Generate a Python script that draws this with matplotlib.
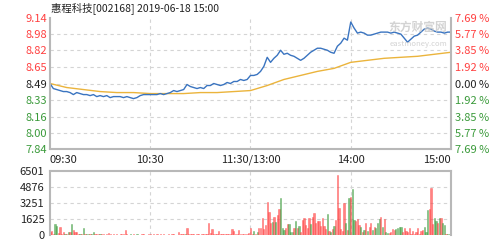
import numpy as np
import matplotlib
matplotlib.use('Agg')
import matplotlib.pyplot as plt

plt.rcParams['font.family'] = ['Noto Sans CJK SC', 'DejaVu Sans']

title = '惠程科技[002168] 2019-06-18 15:00'
prev_close = 8.49

# price ticks (left) and pct labels (right)
price_ticks = [7.84, 8.00, 8.16, 8.33, 8.49, 8.65, 8.82, 8.98, 9.14]
pct_labels = ['7.69 %', '5.77 %', '3.85 %', '1.92 %', '0.00 %', '1.92 %', '3.85 %', '5.77 %', '7.69 %']
vol_ticks = [0, 1625, 3251, 4876, 6501]
time_ticks = [0, 60, 120, 180, 240]
time_labels = ['09:30', '10:30', '11:30/13:00', '14:00', '15:00']

# price every 2 minutes (minute 0..240)
price_min = list(range(0, 241, 2))
price = [8.49, 8.44, 8.43, 8.42, 8.41, 8.41, 8.40, 8.38, 8.40, 8.39,
         8.38, 8.38, 8.37, 8.38, 8.36, 8.37, 8.36, 8.37, 8.35, 8.36,
         8.36, 8.36, 8.35, 8.36, 8.35, 8.34, 8.35, 8.37, 8.38, 8.38,
         8.38, 8.38, 8.38, 8.39, 8.38, 8.39, 8.40, 8.42, 8.41, 8.42,
         8.43, 8.48, 8.46, 8.45, 8.44, 8.45, 8.44, 8.47, 8.47, 8.49,
         8.48, 8.47, 8.48, 8.50, 8.49, 8.51, 8.51, 8.53, 8.52, 8.53,
         8.57, 8.57, 8.58, 8.61, 8.66, 8.75, 8.70, 8.74, 8.77, 8.82,
         8.78, 8.79, 8.77, 8.76, 8.74, 8.72, 8.74, 8.77, 8.80, 8.82,
         8.84, 8.84, 8.83, 8.82, 8.80, 8.79, 8.86, 8.89, 8.94, 8.92,
         9.10, 9.04, 8.99, 9.00, 8.99, 8.97, 8.97, 8.98, 8.99, 9.00,
         9.00, 9.00, 8.99, 9.00, 8.99, 8.98, 8.94, 8.90, 8.93, 8.96,
         8.97, 9.00, 9.03, 9.04, 9.03, 9.01, 9.00, 9.00, 8.99, 9.00,
         9.00]

# average price every 10 minutes
avg_min = list(range(0, 241, 10))
avg_price = [8.49, 8.45, 8.43, 8.41, 8.40, 8.40, 8.39, 8.39, 8.39, 8.40,
             8.40, 8.41, 8.42, 8.47, 8.53, 8.57, 8.61, 8.64, 8.70, 8.72,
             8.74, 8.75, 8.76, 8.78, 8.80]

# volume per minute (0..240) and bar colour (r = up, g = down)
volume = [300, 440, 100, 1080, 900, 200, 780, 150, 330, 100,
          120, 270, 270, 1080, 500, 350, 270, 120, 100, 150,
          680, 100, 150, 150, 130, 150, 270, 100, 80, 60,
          120, 80, 60, 50, 80, 170, 60, 50, 60, 40,
          60, 50, 70, 60, 80, 500, 60, 50, 60, 40,
          80, 50, 60, 40, 50, 70, 60, 50, 40, 60,
          80, 50, 60, 40, 60, 50, 70, 40, 60, 50,
          40, 60, 50, 80, 60, 50, 40, 270, 60, 80,
          150, 100, 750, 150, 100, 60, 80, 50, 60, 70,
          50, 80, 60, 100, 150, 1180, 250, 580, 150, 100,
          60, 410, 80, 80, 60, 100, 60, 80, 150, 580,
          400, 100, 80, 480, 100, 80, 60, 150, 100, 200,
          680, 150, 440, 100, 300, 750, 750, 1760, 580, 1000,
          3390, 2370, 1250, 1350, 1860, 1290, 2030, 2610, 3790, 750,
          510, 680, 1080, 1080, 340, 300, 750, 1420, 680, 950,
          270, 1520, 1690, 1000, 750, 1690, 1080, 1860, 2270, 1200,
          1460, 1460, 900, 1690, 950, 580, 2100, 400, 300, 580,
          950, 1520, 6100, 2710, 600, 400, 3220, 1250, 500, 3790,
          3900, 4650, 1520, 1420, 1620, 1020, 850, 270, 510, 1190,
          400, 850, 1190, 510, 850, 750, 1190, 1620, 1860, 850,
          1590, 340, 170, 170, 340, 580, 500, 610, 750, 850,
          850, 340, 750, 400, 270, 680, 150, 400, 150, 270,
          680, 150, 400, 510, 850, 340, 2540, 2640, 4810, 1080,
          1760, 1420, 1190, 1760, 1700, 1190, 1020, 150, 100, 100,
          1460]
vol_dir = ('rrrggrrrrgrgrgrrrrgrgrggrggrrr'
           'grrrrrrgrrrrrrrrrrgrrrgrrrrgrr'
           'rgrrrrrgrrrrrrrrrrrrrgrrrrrrrr'
           'rrrrrrrrrrrrrrrrrrrrrrrrrrrrrr'
           'rrgrgrrrrrrrrgrgrrgggrrgggrgrg'
           'rrrrrrgrrrrrrrrrgrgrgrrrrrrgrg'
           'rggrrrgrgrgrrgrgggrgrggrrrrggg'
           'grrrrrrrrrrrrrgggrrrggrgrggrggrrrrr')

up_color = '#ff4040'
down_color = '#3a9a3a'
grid_color = '#d4d4d4'
frame_color = '#b8b8b8'

fig = plt.figure(figsize=(5.02, 2.40), dpi=100)
ax = fig.add_axes([50 / 502, 1 - 149 / 240, 401 / 502, 131 / 240])
axv = fig.add_axes([50 / 502, 1 - 235 / 240, 401 / 502, 64 / 240])

# price panel
ax.plot(avg_min, avg_price, color='#ebb43c', lw=1.0)
ax.plot(price_min, price, color='#3a74c0', lw=1.0)
ax.set_xlim(0, 240)
ax.set_ylim(price_ticks[0], price_ticks[-1])
ax.set_yticks(price_ticks)
ax.set_yticklabels(['%.2f' % p for p in price_ticks])
for lbl, p in zip(ax.get_yticklabels(), price_ticks):
    if p > prev_close:
        lbl.set_color(up_color)
    elif p < prev_close:
        lbl.set_color(down_color)
    else:
        lbl.set_color('#222222')
ax.set_xticks(time_ticks)
ax.set_xticklabels(time_labels)
xl = ax.get_xticklabels()
xl[0].set_ha('left')
xl[-1].set_ha('right')
ax.tick_params(axis='both', length=0, labelsize=8, pad=2)
ax.tick_params(axis='x', pad=4, colors='#222222')
for y in price_ticks[1:-1]:
    ax.axhline(y, color=grid_color, lw=0.8, ls=(0, (3, 3)), zorder=0)
for x in time_ticks[1:-1]:
    ax.axvline(x, color=grid_color, lw=0.8, ls=(0, (3, 3)), zorder=0)
for s in ['left', 'right', 'bottom']:
    ax.spines[s].set_color(frame_color)
    ax.spines[s].set_linewidth(1.5)
ax.spines['top'].set_visible(False)

axr = ax.twinx()
axr.set_ylim(price_ticks[0], price_ticks[-1])
axr.set_yticks(price_ticks)
axr.set_yticklabels(pct_labels[::-1])
for lbl, p in zip(axr.get_yticklabels(), price_ticks):
    if p > prev_close:
        lbl.set_color(up_color)
    elif p < prev_close:
        lbl.set_color(down_color)
    else:
        lbl.set_color('#222222')
axr.tick_params(axis='y', length=0, labelsize=8, pad=3)
for s in axr.spines.values():
    s.set_visible(False)

# watermark
ax.text(0.99, 0.975, '东方财富网', transform=ax.transAxes, ha='right', va='top',
        fontsize=8.5, color='#c8c8c8', alpha=0.8, fontweight='bold')
ax.text(0.99, 0.80, 'eastmoney.com', transform=ax.transAxes, ha='right', va='center',
        fontsize=5.5, color='#c8c8c8', alpha=0.8)

fig.text(51 / 502, 1 - 8 / 240, title, ha='left', va='center', fontsize=7.5, color='#222222')

# volume panel
minutes = np.arange(len(volume))
colors = [up_color if c == 'r' else down_color for c in vol_dir[:len(volume)]]
axv.bar(minutes, volume, width=0.75, color=colors, alpha=0.65, edgecolor=colors, linewidth=0.4)
axv.set_xlim(0, 240)
axv.set_ylim(0, vol_ticks[-1])
axv.set_yticks(vol_ticks)
axv.set_yticklabels([str(v) for v in vol_ticks])
axv.set_xticks([])
axv.tick_params(axis='y', length=0, labelsize=8, pad=4, colors='#222222')
for y in vol_ticks[1:-1]:
    axv.axhline(y, color=grid_color, lw=0.8, ls=(0, (3, 3)), zorder=0)
for x in time_ticks[1:-1]:
    axv.axvline(x, color=grid_color, lw=0.8, ls=(0, (3, 3)), zorder=0)
for s in axv.spines.values():
    s.set_color(frame_color)
    s.set_linewidth(1.5)
axv.spines['bottom'].set_visible(False)

fig.savefig('out.png', dpi=100)
